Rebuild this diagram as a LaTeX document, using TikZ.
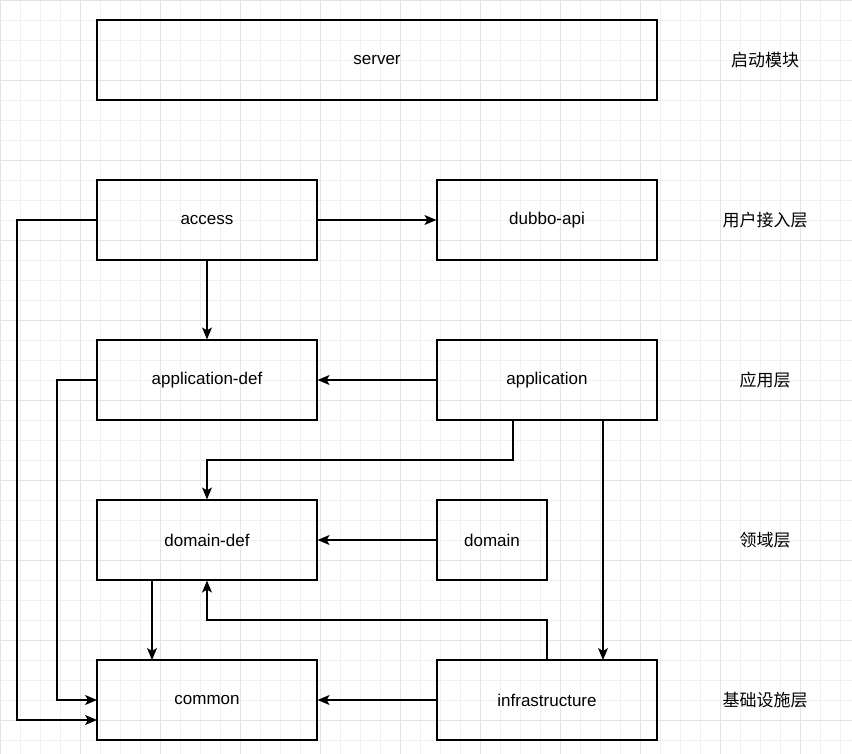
\documentclass[tikz,border=0pt]{standalone}
\usepackage{fontspec}
\setmainfont{Liberation Sans}
\newfontfamily\cjk{Noto Sans CJK SC}
\usetikzlibrary{arrows.meta}
\begin{document}
\begin{tikzpicture}[x=1pt,y=-1pt,
  box/.style={draw,line width=1.2pt,minimum height=80pt,font=\fontsize{17}{20}\selectfont},
  lab/.style={font=\cjk\fontsize{17}{20}\selectfont},
  arr/.style={-{Stealth[length=12pt,width=10pt,inset=3pt]},line width=1.2pt}]
\useasboundingbox (0,0) rectangle (852,754);
\fill[white] (0,0) rectangle (852,754);
\foreach \i in {0,20,...,840} \draw[gray!12,line width=0.6pt] (\i,0) -- (\i,754);
\foreach \i in {0,20,...,740} \draw[gray!12,line width=0.6pt] (0,\i) -- (852,\i);
\foreach \i in {0,80,...,840} \draw[gray!22,line width=0.7pt] (\i,0) -- (\i,754);
\foreach \i in {0,80,...,740} \draw[gray!22,line width=0.7pt] (0,\i) -- (852,\i);
\node[box,minimum width=560pt] (server) at (377,60) {server};
\node[box,minimum width=220pt] (access) at (207,220) {access};
\node[box,minimum width=220pt] (dubbo) at (547,220) {dubbo-api};
\node[box,minimum width=220pt] (appdef) at (207,380) {application-def};
\node[box,minimum width=220pt] (app) at (547,380) {application};
\node[box,minimum width=220pt] (domdef) at (207,540) {domain-def};
\node[box,minimum width=110pt] (dom) at (492,540) {domain};
\node[box,minimum width=220pt] (common) at (207,700) {common};
\node[box,minimum width=220pt] (infra) at (547,700) {infrastructure};
\node[lab] (l1) at (765,60) {启动模块};
\node[lab] (l2) at (765,220) {用户接入层};
\node[lab] (l3) at (765,380) {应用层};
\node[lab] (l4) at (765,540) {领域层};
\node[lab] (l5) at (765,700) {基础设施层};
\draw[arr] (access) -- (dubbo);
\draw[arr] (access) -- (appdef);
\draw[arr] (access.west) -- (17,220) -- (17,720) -- (97,720);
\draw[arr] (appdef.west) -- (57,380) -- (57,700) -- (97,700);
\draw[arr] (app) -- (appdef);
\draw[arr] (513,420) -- (513,460) -- (207,460) -- (domdef.north);
\draw[arr] (603,420) -- (603,660);
\draw[arr] (dom) -- (domdef);
\draw[arr] (152,580) -- (152,660);
\draw[arr] (547,660) -- (547,620) -- (207,620) -- (domdef.south);
\draw[arr] (infra) -- (common);
\end{tikzpicture}
\end{document}
